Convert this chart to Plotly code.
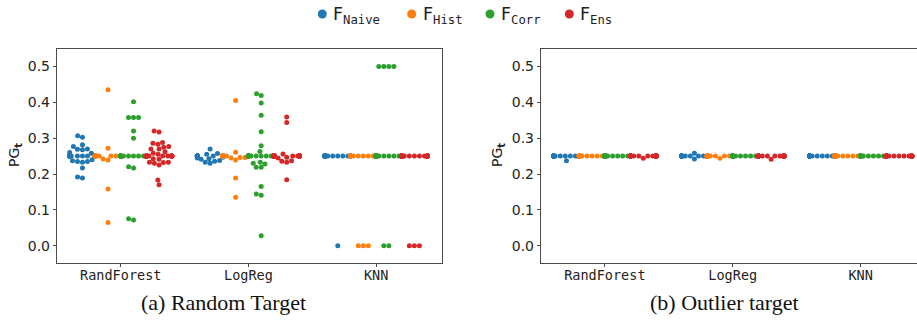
import numpy as np
import plotly.graph_objects as go

# ---------------------------------------------------------------- data
models = ["RandForest", "LogReg", "KNN"]
methods = ["Naive", "Hist", "Corr", "Ens"]
colors = ["#1f77b4", "#ff7f0e", "#2ca02c", "#d62728"]

# PG_t per run, random target
rand_rf_naive = [0.307, 0.303, 0.282, 0.277, 0.270, 0.268, 0.269, 0.260, 0.258,
                 0.240, 0.235, 0.233, 0.235, 0.237, 0.217, 0.192, 0.189] + [0.25] * 23
rand_rf_hist = [0.435, 0.272, 0.242, 0.239, 0.158, 0.065] + [0.25] * 34
rand_rf_corr = [0.402, 0.358, 0.358, 0.358, 0.320, 0.300, 0.220, 0.217,
                0.075, 0.072] + [0.25] * 30
rand_rf_ens = [0.320, 0.317, 0.288, 0.286, 0.283, 0.277, 0.275, 0.270, 0.270,
               0.262, 0.258, 0.255, 0.243, 0.241, 0.233, 0.233, 0.232, 0.230,
               0.225, 0.183, 0.170] + [0.25] * 19

rand_lr_naive = [0.270, 0.257, 0.255, 0.247, 0.245, 0.243, 0.241, 0.238, 0.236,
                 0.233, 0.230] + [0.25] * 29
rand_lr_hist = [0.405, 0.261, 0.252, 0.246, 0.246, 0.245, 0.239, 0.189,
                0.135] + [0.25] * 31
rand_lr_corr = [0.424, 0.419, 0.398, 0.364, 0.318, 0.279, 0.263, 0.233, 0.230,
                0.228, 0.219, 0.219, 0.165, 0.144, 0.141, 0.028] + [0.25] * 24
rand_lr_ens = [0.359, 0.344, 0.256, 0.252, 0.247, 0.245, 0.237, 0.236, 0.233,
               0.184] + [0.25] * 30

rand_knn_naive = [0.0] + [0.25] * 39
rand_knn_hist = [0.0, 0.0, 0.0] + [0.25] * 37
rand_knn_corr = [0.5, 0.5, 0.5, 0.5, 0.0, 0.0] + [0.25] * 34
rand_knn_ens = [0.0, 0.0, 0.0] + [0.25] * 37

# PG_t per run, outlier target
out_rf_naive = [0.237] + [0.25] * 39
out_rf_hist = [0.25] * 40
out_rf_corr = [0.25] * 40
out_rf_ens = [0.244] + [0.25] * 39

out_lr_naive = [0.242, 0.258] + [0.25] * 38
out_lr_hist = [0.244] + [0.25] * 39
out_lr_corr = [0.25] * 40
out_lr_ens = [0.241] + [0.25] * 39

out_knn_naive = [0.25] * 40
out_knn_hist = [0.25] * 40
out_knn_corr = [0.25] * 40
out_knn_ens = [0.25] * 40

random_target = [
    [rand_rf_naive, rand_rf_hist, rand_rf_corr, rand_rf_ens],
    [rand_lr_naive, rand_lr_hist, rand_lr_corr, rand_lr_ens],
    [rand_knn_naive, rand_knn_hist, rand_knn_corr, rand_knn_ens],
]
outlier_target = [
    [out_rf_naive, out_rf_hist, out_rf_corr, out_rf_ens],
    [out_lr_naive, out_lr_hist, out_lr_corr, out_lr_ens],
    [out_knn_naive, out_knn_hist, out_knn_corr, out_knn_ens],
]

y_ticks = [0.0, 0.1, 0.2, 0.3, 0.4, 0.5]

# ---------------------------------------------------------------- layout geometry
W, H = 917, 320
PLOT_TOP, PLOT_BOTTOM = 49.0, 262.7
LEFT_X0, LEFT_X1 = 57.3, 441.7
RIGHT_X0 = 541.3
X_RANGE_L = [-0.497, 2.514]
X_RANGE_R = [-0.497, 2.4405]
Y_RANGE = [-0.0475, 0.549]

px_per_x = (LEFT_X1 - LEFT_X0) / (X_RANGE_L[1] - X_RANGE_L[0])
px_per_y = (PLOT_BOTTOM - PLOT_TOP) / (Y_RANGE[1] - Y_RANGE[0])

MARKER = 5.0            # marker diameter in px
RADIUS = 2.4            # collision radius in px
DODGE = 0.8 / len(methods)

# legend row (pixel x of each marker, text starts a little to its right)
LEGEND_Y = 14
LEGEND_MARKER_X = [322.3, 411.7, 490.0, 569.3]
LEGEND_TEXT_GAP = 9


def beeswarm(values):
    """Horizontal offsets (axis units) of a swarm, points clipped to the dodge width."""
    vals = np.asarray(values, dtype=float)
    order = np.argsort(vals, kind="stable")
    ys = vals[order] * px_per_y
    px_list, py_list = [], []
    d = 2 * RADIUS
    for y in ys:
        neigh = [(px, py) for px, py in zip(px_list, py_list) if abs(py - y) < d]
        cands = [0.0]
        for px, py in neigh:
            dx = np.sqrt(max(d * d - (y - py) ** 2, 0.0)) * 1.05
            cands += [px - dx, px + dx]
        cands.sort(key=abs)
        chosen = cands[-1]
        for c in cands:
            if all((c - px) ** 2 + (y - py) ** 2 >= d * d - 1e-9 for px, py in neigh):
                chosen = c
                break
        px_list.append(chosen)
        py_list.append(y)
    half = DODGE / 2 * px_per_x
    offs = np.clip(np.array(px_list), -half, half) / px_per_x
    out = np.empty_like(offs)
    out[order] = offs
    return out


fig = go.Figure()

for panel, (data, xa, ya) in enumerate([(random_target, "x", "y"),
                                        (outlier_target, "x2", "y2")]):
    for m, name in enumerate(methods):
        xs, ys = [], []
        for c, model in enumerate(models):
            vals = data[c][m]
            center = c + (m - (len(methods) - 1) / 2) * DODGE
            xs.extend(center + beeswarm(vals))
            ys.extend(vals)
        fig.add_trace(go.Scatter(
            x=xs, y=ys, mode="markers", xaxis=xa, yaxis=ya, name="F " + name,
            marker=dict(size=MARKER, color=colors[m], line=dict(width=0)),
            showlegend=False, hoverinfo="skip"))

# legend row: dot + label per method
for m, name in enumerate(methods):
    cx = LEGEND_MARKER_X[m]
    fig.add_shape(type="circle", xref="paper", yref="paper",
                  xsizemode="pixel", ysizemode="pixel",
                  xanchor=cx / W, yanchor=(H - LEGEND_Y) / H,
                  x0=-4.5, x1=4.5, y0=-4.5, y1=4.5,
                  fillcolor=colors[m], line=dict(width=0))
    fig.add_annotation(
        x=(cx + LEGEND_TEXT_GAP) / W, y=(H - LEGEND_Y - 1) / H,
        xref="paper", yref="paper", xanchor="left", yanchor="middle",
        showarrow=False,
        text=f'F<sub><span style="font-family:DejaVu Sans Mono">{name}</span></sub>',
        font=dict(family="DejaVu Sans", size=17.5, color="#222"))

frame = "#4a4a4a"
axis_common = dict(showgrid=False, zeroline=False, showline=True, linecolor=frame,
                   linewidth=1, ticks="outside", ticklen=3.5, tickwidth=1,
                   tickcolor=frame)
xtick = dict(tickmode="array", tickvals=list(range(len(models))), ticktext=models,
             ticklabelstandoff=-3,
             tickfont=dict(family="DejaVu Sans Mono", size=13.5, color="#222"))
ytick = dict(tickmode="array", tickvals=y_ticks,
             ticktext=[f"{v:.1f}" for v in y_ticks],
             tickfont=dict(family="DejaVu Sans", size=14, color="#222"))

ydom = [(H - PLOT_BOTTOM) / H, (H - PLOT_TOP) / H]
fig.update_layout(
    width=W, height=H, margin=dict(l=0, r=0, t=0, b=0),
    paper_bgcolor="white", plot_bgcolor="white",
    xaxis=dict(domain=[LEFT_X0 / W, LEFT_X1 / W], range=X_RANGE_L, mirror=True,
               anchor="y", **axis_common, **xtick),
    yaxis=dict(domain=ydom, range=Y_RANGE, mirror=True, anchor="x",
               **axis_common, **ytick),
    xaxis2=dict(domain=[RIGHT_X0 / W, 1.0], range=X_RANGE_R, mirror=True,
                anchor="y2", **axis_common, **xtick),
    yaxis2=dict(domain=ydom, range=Y_RANGE, mirror=False, anchor="x2",
                **axis_common, **ytick),
    showlegend=False,
)

# y-axis titles and subfigure captions
for xc in (15, 498):
    fig.add_annotation(x=xc / W, y=(H - 155) / H, xref="paper", yref="paper",
                       xanchor="center", yanchor="middle",
                       text="PG<sub><b>t</b></sub>", textangle=-90, showarrow=False,
                       font=dict(family="DejaVu Sans", size=14, color="#222"))
for xc, cap in ((223, "(a) Random Target"), (724, "(b) Outlier target")):
    fig.add_annotation(x=xc / W, y=(H - 302) / H, xref="paper", yref="paper",
                       xanchor="center", yanchor="middle",
                       text=cap, showarrow=False,
                       font=dict(family="Liberation Serif", size=22, color="#111"))

fig.write_html("out.html")
